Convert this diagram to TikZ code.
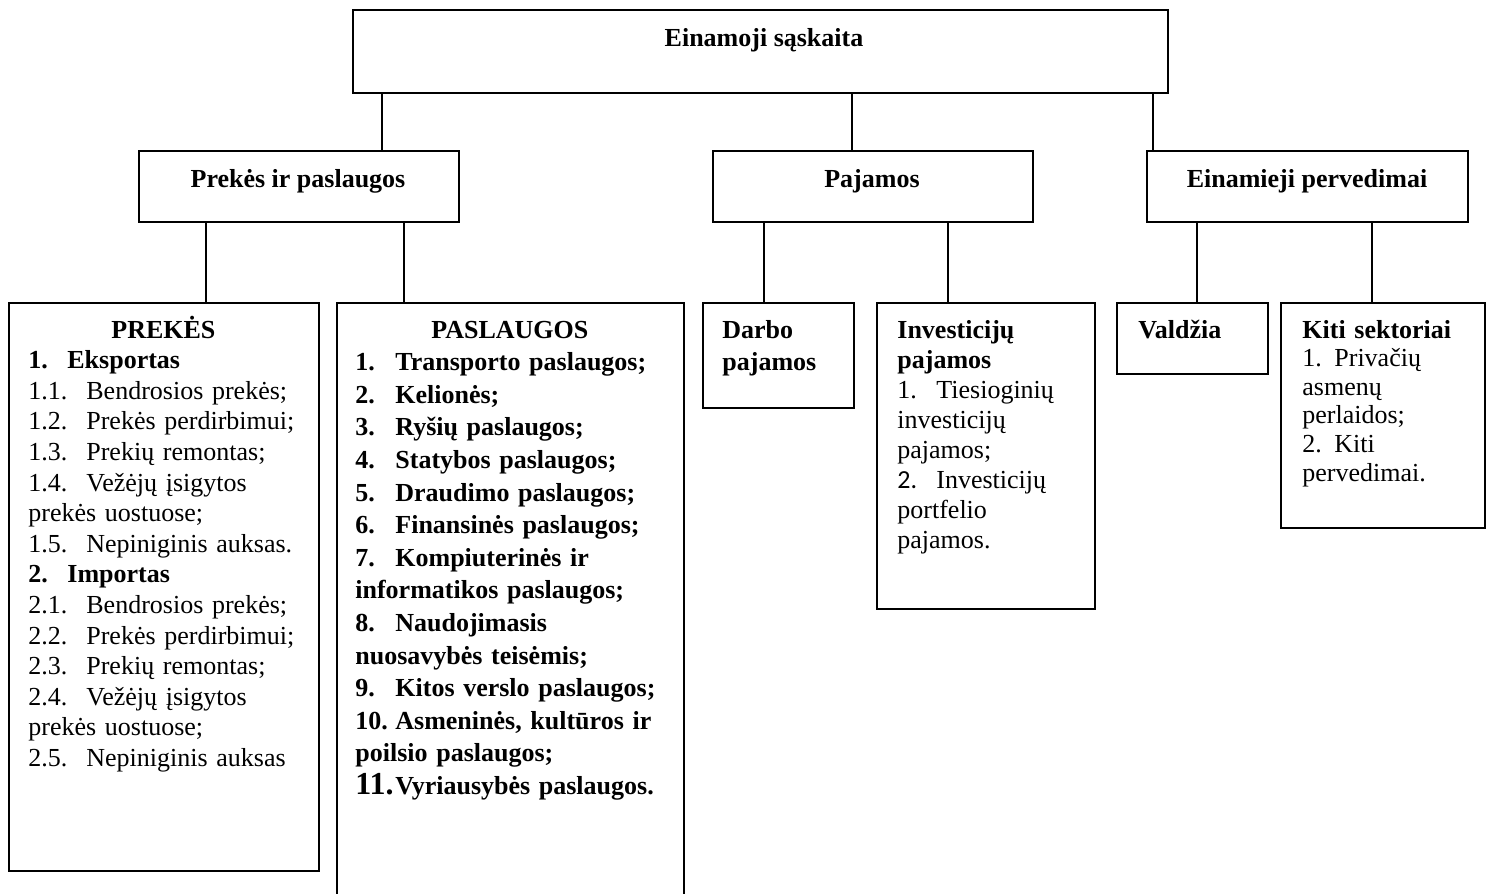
\documentclass[tikz,border=0pt]{standalone}
\usepackage{fontspec}
\setmainfont{Liberation Serif}
\newfontfamily\calibri{Carlito}
\usetikzlibrary{positioning}

\tikzset{
	blokas/.style={draw, line width=1pt, anchor=north west, inner sep=0pt},
	tekstas/.style={anchor=base west, inner sep=0pt, align=left},
	antraste/.style={anchor=base, inner sep=0pt, font=\fontsize{13}{15}\selectfont\bfseries},
	jungtis/.style={line width=1pt},
}

\begin{document}
\begin{tikzpicture}[x=0.5pt,y=-0.5pt]
		\useasboundingbox (0,0) rectangle (1486,893);
		% virsutinis lygis
		\node[blokas, minimum width=407.5pt, minimum height=41.5pt] (sask) at (352,9) {};
		\node[antraste] (sasktxt) at (764,47) {Einamoji sąskaita};
		% antras lygis
		\node[blokas, minimum width=160pt, minimum height=35.5pt] (prek) at (138,150) {};
		\node[blokas, minimum width=160pt, minimum height=35.5pt] (paj) at (712,150) {};
		\node[blokas, minimum width=160.5pt, minimum height=35.5pt] (perv) at (1146,150) {};
		\node[antraste] (prektxt) at (298,188) {Prekės ir paslaugos};
		\node[antraste] (pajtxt) at (872,188) {Pajamos};
		\node[antraste] (pervtxt) at (1307,188) {Einamieji pervedimai};
		% trecias lygis
		\node[blokas, minimum width=155pt, minimum height=284pt] (preks) at (8,302) {};
		\node[blokas, minimum width=173.5pt, minimum height=310pt] (pasl) at (336,302) {};
		\node[blokas, minimum width=75.5pt, minimum height=52.5pt] (darbo) at (702,302) {};
		\node[blokas, minimum width=109pt, minimum height=153pt] (invest) at (876,302) {};
		\node[blokas, minimum width=75.5pt, minimum height=35.5pt] (valdz) at (1116,302) {};
		\node[blokas, minimum width=102pt, minimum height=112.5pt] (kiti) at (1280,302) {};

		\node[tekstas, text width=145pt, font=\fontsize{13}{15.3}\selectfont] (prekstxt) at (28,338) {%
			\makebox[135pt]{\textbf{PREKĖS}}\\
			\textbf{\makebox[19.5pt][l]{1.}Eksportas}\\
			\makebox[29pt][l]{1.1.}Bendrosios prekės;\\
			\makebox[29pt][l]{1.2.}Prekės perdirbimui;\\
			\makebox[29pt][l]{1.3.}Prekių remontas;\\
			\makebox[29pt][l]{1.4.}Vežėjų įsigytos\\
			prekės uostuose;\\
			\makebox[29pt][l]{1.5.}Nepiniginis auksas.\\
			\textbf{\makebox[19.5pt][l]{2.}Importas}\\
			\makebox[29pt][l]{2.1.}Bendrosios prekės;\\
			\makebox[29pt][l]{2.2.}Prekės perdirbimui;\\
			\makebox[29pt][l]{2.3.}Prekių remontas;\\
			\makebox[29pt][l]{2.4.}Vežėjų įsigytos\\
			prekės uostuose;\\
			\makebox[29pt][l]{2.5.}Nepiniginis auksas};
		\node[tekstas, text width=164pt, font=\fontsize{13}{16.3}\selectfont\bfseries] (pasltxt) at (355,338) {%
			\makebox[154.5pt]{PASLAUGOS}\\
			\makebox[20pt][l]{1.}Transporto paslaugos;\\
			\makebox[20pt][l]{2.}Kelionės;\\
			\makebox[20pt][l]{3.}Ryšių paslaugos;\\
			\makebox[20pt][l]{4.}Statybos paslaugos;\\
			\makebox[20pt][l]{5.}Draudimo paslaugos;\\
			\makebox[20pt][l]{6.}Finansinės paslaugos;\\
			\makebox[20pt][l]{7.}Kompiuterinės ir\\
			informatikos paslaugos;\\
			\makebox[20pt][l]{8.}Naudojimasis\\
			nuosavybės teisėmis;\\
			\makebox[20pt][l]{9.}Kitos verslo paslaugos;\\
			\makebox[20pt][l]{10.}Asmeninės, kultūros ir\\
			poilsio paslaugos;\\
			\makebox[20pt][l]{\fontsize{16}{16}\selectfont 11.}Vyriausybės paslaugos.};
		\node[tekstas, text width=60pt, font=\fontsize{13}{16}\selectfont\bfseries] (darbotxt) at (722,338) {Darbo\\ pajamos};
		\node[tekstas, text width=95pt, font=\fontsize{13}{15}\selectfont] (investtxt) at (897,338) {%
			\textbf{Investicijų}\\
			\textbf{pajamos}\\
			\makebox[19.5pt][l]{1.}Tiesioginių\\
			investicijų\\
			pajamos;\\
			\makebox[19.5pt][l]{\calibri 2.}Investicijų\\
			portfelio\\
			pajamos.};
		\node[tekstas, text width=60pt, font=\fontsize{13}{15}\selectfont\bfseries] (valdztxt) at (1138,338) {Valdžia};
		\node[tekstas, text width=90pt, font=\fontsize{13}{14.3}\selectfont] (kititxt) at (1302,338) {%
			\textbf{Kiti sektoriai}\\
			\makebox[16pt][l]{1.}Privačių\\
			asmenų\\
			perlaidos;\\
			\makebox[16pt][l]{2.}Kiti\\
			pervedimai.};

		% jungtys
		\coordinate (k1) at (382,0);
		\coordinate (k2) at (852,0);
		\coordinate (k3) at (1153,0);
		\coordinate (k4) at (206,0);
		\coordinate (k5) at (404,0);
		\coordinate (k6) at (764,0);
		\coordinate (k7) at (948,0);
		\coordinate (k8) at (1197,0);
		\coordinate (k9) at (1372,0);
		\draw[jungtis] (sask.south -| k1) -- (prek.north -| k1);
		\draw[jungtis] (sask.south -| k2) -- (paj.north -| k2);
		\draw[jungtis] (sask.south -| k3) -- (perv.north -| k3);
		\draw[jungtis] (prek.south -| k4) -- (preks.north -| k4);
		\draw[jungtis] (prek.south -| k5) -- (pasl.north -| k5);
		\draw[jungtis] (paj.south -| k6) -- (darbo.north -| k6);
		\draw[jungtis] (paj.south -| k7) -- (invest.north -| k7);
		\draw[jungtis] (perv.south -| k8) -- (valdz.north -| k8);
		\draw[jungtis] (perv.south -| k9) -- (kiti.north -| k9);
\end{tikzpicture}
\end{document}
